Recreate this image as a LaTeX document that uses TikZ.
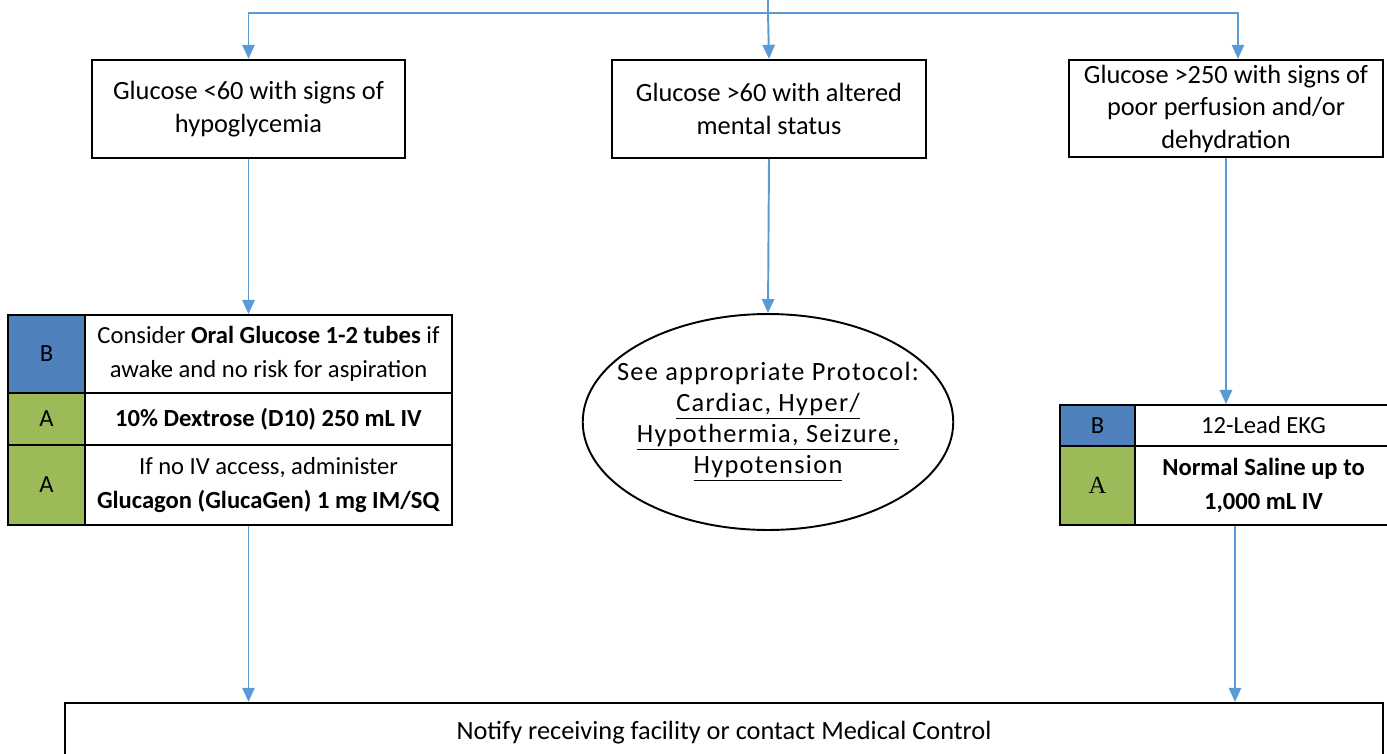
\documentclass[tikz,border=0pt]{standalone}
\usepackage{fontspec}
\setmainfont{Carlito}
\newfontfamily\serifA{Liberation Serif}
\usetikzlibrary{shapes.geometric,arrows.meta}
\definecolor{levelB}{RGB}{79,129,189}
\definecolor{levelA}{RGB}{155,187,89}
\definecolor{arrowblue}{RGB}{91,155,213}

\begin{document}
\begin{tikzpicture}[x=0.02cm, y=-0.02cm, font=\fontsize{15}{18.5}\selectfont,
    cond/.style = {draw, line width=1.3pt, align=center, minimum height=1.96cm, inner sep=0pt},
    lvl/.style = {draw, line width=1.1pt, minimum width=1.54cm, inner sep=0pt,
                  font=\fontsize{14}{19.5}\selectfont},
    txt/.style = {draw, line width=1.1pt, align=center, inner sep=0pt, minimum width=7.34cm,
                  font=\fontsize{14}{19.5}\selectfont},
    flow/.style = {draw=arrowblue, line width=1.1pt, -{Triangle[width=7pt,length=8pt]}}]
\useasboundingbox (0,0) rectangle (1387,754);
\clip (0,0) rectangle (1387,754);

% conditions
\node[cond, minimum width=6.26cm] (hypo) at (248.5,109) {Glucose <60 with signs of\\hypoglycemia};
\node[cond, minimum width=6.28cm] (alt) at (769,109) {Glucose >60 with altered\\mental status};
\node[cond, minimum width=6.28cm, minimum height=1.94cm] (hyper) at (1226,108.5) {Glucose >250 with signs of\\poor perfusion and/or\\dehydration};

% hypoglycemia treatment
\node[lvl, fill=levelB, minimum height=1.56cm] (lb1) at (46.5,354) {B};
\node[txt, minimum height=1.56cm] (oral) at (268.5,354) {Consider \textbf{Oral Glucose 1-2 tubes} if\\awake and no risk for aspiration};
\node[lvl, fill=levelA, minimum height=1.04cm] (la2) at (46.5,419) {A};
\node[txt, minimum height=1.04cm] (dext) at (268.5,419) {\textbf{10\% Dextrose (D10) 250 mL IV}};
\node[lvl, fill=levelA, minimum height=1.6cm] (la3) at (46.5,485) {A};
\node[txt, minimum height=1.6cm] (gluc) at (268.5,485) {If no IV access, administer\\\textbf{Glucagon (GlucaGen) 1 mg IM/SQ}};

% altered mental status
\node[ellipse, draw, line width=1.1pt, minimum width=7.4cm, minimum height=4.32cm, align=center,
      inner xsep=-0.4cm, inner ysep=0pt,
      font=\fontsize{15}{17.6}\selectfont\addfontfeature{LetterSpace=5}] (see) at (768,422)
      {See appropriate Protocol:\\\underline{Cardiac, Hyper/}\\\underline{Hypothermia, Seizure,}\\\underline{Hypotension}};

% hyperglycemia treatment
\node[lvl, fill=levelB, minimum width=1.5cm, minimum height=0.82cm] (rb1) at (1097.5,425.5) {B};
\node[txt, minimum width=5.14cm, minimum height=0.82cm] (ekg) at (1263.5,425.5) {12-Lead EKG};
\node[lvl, fill=levelA, minimum width=1.5cm, minimum height=1.58cm] (ra2) at (1097.5,485.5) {\serifA A};
\node[txt, minimum width=5.14cm, minimum height=1.58cm] (saline) at (1263.5,485.5) {\textbf{Normal Saline up to}\\\textbf{1,000 mL IV}};

% notify
\node[draw, line width=1.3pt, minimum width=26.36cm, minimum height=1.2cm, inner sep=0pt] (notify) at (724,733)
      {Notify receiving facility or contact Medical Control};

% connectors
\coordinate (start) at (768,-5);
\coordinate (split) at (768,13);
\coordinate (rdrop) at ([xshift=0.18cm]hyper.south);
\draw[draw=arrowblue, line width=1.1pt] (start) -- (split);
\draw[flow] (split) -| (hypo.north);
\draw[flow] (split) -- (alt.north);
\draw[flow] (split) -| ([xshift=0.24cm]hyper.north);
\draw[flow] (hypo.south) -- (hypo.south |- oral.north);
\draw[flow] (alt.south) -- (see.north);
\draw[flow] (hyper.south) -- (hyper.south |- ekg.north);
\draw[flow] (hypo.south |- gluc.south) -- (hypo.south |- notify.north);
\draw[flow] (rdrop |- saline.south) -- (rdrop |- notify.north);
\end{tikzpicture}
\end{document}
